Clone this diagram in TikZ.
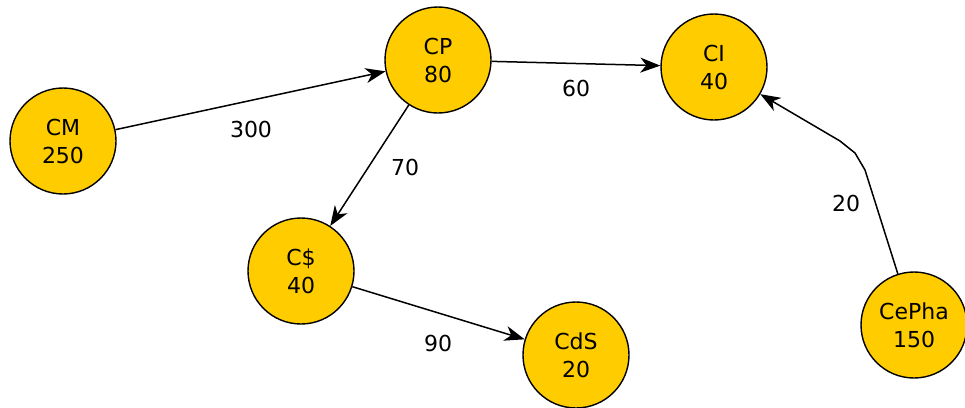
\documentclass[tikz,border=0pt]{standalone}
\usepackage{fontspec}
\setmainfont{DejaVu Sans}
\usetikzlibrary{arrows.meta}
\definecolor{nodeyellow}{HTML}{FFCC00}
\begin{document}
\begin{tikzpicture}[x=1pt,y=-1pt,
  state/.style={circle,draw=black,line width=1.4pt,fill=nodeyellow,minimum size=106pt,inner sep=0pt,align=center,font=\fontsize{22}{28}\selectfont},
  arr/.style={line width=1.5pt,-{Stealth[length=20pt,width=15pt,inset=6pt]}},
  lbl/.style={font=\fontsize{22}{28}\selectfont,inner sep=0pt}]
\useasboundingbox (0,0) rectangle (965,407);
\node[state] (cm) at (63,141) {CM\\250};
\node[state] (cp) at (438,60) {CP\\80};
\node[state] (ci) at (714,67) {CI\\40};
\node[state] (cd) at (301,271) {C\$\\40};
\node[state] (cds) at (576,355) {CdS\\20};
\node[state] (cepha) at (914,325) {CePha\\150};
\coordinate (b1) at (865,170);
\coordinate (b2) at (855,153);
\coordinate (b3) at (840,141);
\draw[arr] (cm) -- (cp);
\draw[arr] (cp) -- (ci);
\draw[arr] (cp) -- (cd);
\draw[arr] (cd) -- (cds);
\draw[arr] (cepha) -- (b1) -- (b2) -- (b3) -- (ci);
\node[lbl] (l300) at (251,129) {300};
\node[lbl] (l60) at (576,88) {60};
\node[lbl] (l70) at (405,167) {70};
\node[lbl] (l90) at (438,343) {90};
\node[lbl] (l20) at (846,203) {20};
\end{tikzpicture}
\end{document}
